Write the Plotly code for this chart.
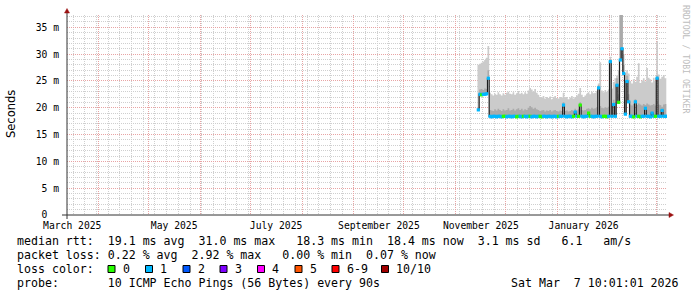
import pandas as pd
import plotly.graph_objects as go

# ---------------- data ----------------
first_day = "2025-11-14"          # daily samples start here
x_start = "2025-03-13 08:30"
x_end = "2026-03-07 10:01"

median_ms = [
    19.6, 22.5, 22.4, 22.5, 22.5, 22.6, 25.5, 18.4, 18.3, 18.4,
    18.4, 18.3, 18.4, 18.4, 18.3, 18.4, 18.4, 18.3, 18.4, 18.4,
    18.3, 18.4, 18.4, 18.3, 18.4, 18.4, 18.3, 18.4, 18.4, 18.3,
    18.4, 18.4, 18.3, 18.4, 18.4, 18.3, 18.4, 18.4, 18.3, 18.4,
    18.4, 18.3, 18.4, 18.4, 18.3, 18.4, 18.4, 18.3, 18.4, 18.4,
    18.4, 20.5, 18.4, 18.3, 18.4, 18.4, 18.3, 18.4, 19.2, 18.4,
    18.4, 20.5, 18.4, 18.3, 18.4, 18.4, 19.0, 18.4, 18.4, 18.3,
    18.4, 18.4, 23.7, 18.4, 18.3, 18.4, 18.4, 18.3, 18.4, 28.6,
    18.4, 20.6, 18.4, 24.2, 21.0, 28.9, 31.0, 26.4, 18.8, 24.9,
    21.1, 18.4, 18.4, 18.3, 21.1, 18.4, 18.4, 18.3, 18.4, 18.4,
    19.9, 18.4, 18.4, 18.3, 19.0, 18.4, 18.4, 25.5, 18.4, 18.4,
    19.5, 18.4, 18.4, 18.4,
]

loss_pings = [
    1, 1, 0, 1, 1, 1, 1, 1, 1, 1,
    1, 1, 1, 1, 1, 0, 0, 1, 1, 1,
    1, 1, 1, 0, 0, 1, 1, 0, 1, 1,
    1, 0, 1, 1, 1, 1, 1, 0, 0, 1,
    1, 1, 1, 1, 1, 1, 1, 1, 0, 1,
    1, 1, 1, 1, 1, 1, 1, 0, 1, 1,
    0, 0, 1, 1, 1, 1, 0, 0, 1, 1,
    1, 1, 1, 1, 1, 0, 0, 0, 1, 1,
    1, 1, 1, 1, 0, 1, 1, 1, 1, 1,
    1, 1, 1, 0, 1, 1, 0, 0, 1, 1,
    1, 1, 1, 1, 1, 1, 0, 1, 1, 1,
    1, 1, 1, 1,
]

smoke_light_ms = [
    28.0, 28.2, 28.4, 28.6, 28.9, 29.3, 31.5, 22.8, 22.5, 22.3,
    22.6, 22.4, 22.9, 22.5, 22.3, 22.7, 22.4, 22.8, 23.0, 22.6,
    22.5, 22.9, 22.4, 22.7, 23.1, 22.6, 22.8, 22.5, 22.9, 22.6,
    23.2, 23.7, 23.4, 23.0, 23.5, 22.8, 22.4, 22.0, 21.9, 22.2,
    21.7, 22.0, 21.8, 22.1, 21.6, 21.9, 22.2, 21.8, 21.7, 22.0,
    21.9, 22.8, 21.8, 22.0, 21.6, 21.9, 22.2, 21.7, 22.0, 22.3,
    22.6, 23.7, 22.4, 22.0, 22.3, 22.6, 22.9, 22.5, 23.0, 22.7,
    22.8, 23.1, 24.5, 28.5, 23.2, 22.9, 23.3, 23.0, 23.4, 29.5,
    23.6, 24.8, 25.5, 26.0, 27.0, 37.5, 37.5, 30.0, 26.5, 27.0,
    26.4, 25.0, 24.5, 25.3, 24.8, 25.8, 28.3, 24.6, 25.1, 25.5,
    24.9, 27.4, 25.6, 25.3, 24.7, 25.6, 25.0, 32.3, 26.2, 25.4,
    25.8, 26.1, 25.5, 26.0,
]

smoke_dark_ms = [
    20.0, 23.4, 23.5, 23.3, 23.6, 23.5, 27.0, 19.6, 19.5, 19.4,
    19.7, 19.5, 19.8, 19.6, 19.4, 19.7, 19.5, 19.6, 19.9, 19.5,
    19.6, 19.8, 19.5, 19.7, 19.9, 19.6, 19.8, 19.5, 19.7, 19.6,
    20.0, 20.3, 20.1, 19.8, 20.0, 19.7, 19.6, 19.4, 19.5, 19.6,
    19.3, 19.5, 19.4, 19.6, 19.3, 19.5, 19.6, 19.4, 19.3, 19.5,
    19.4, 21.0, 19.4, 19.5, 19.3, 19.4, 19.6, 19.4, 19.8, 19.5,
    19.7, 21.0, 19.6, 19.5, 19.6, 19.8, 19.9, 19.7, 20.0, 19.8,
    19.9, 20.1, 24.2, 20.3, 20.0, 19.9, 20.1, 20.0, 20.2, 29.0,
    20.4, 21.5, 21.0, 25.5, 22.5, 37.5, 37.5, 28.0, 21.5, 26.0,
    22.5, 20.6, 20.4, 20.7, 21.6, 20.5, 20.8, 20.6, 20.4, 20.7,
    20.5, 20.8, 20.6, 20.4, 20.5, 20.7, 20.4, 26.0, 20.6, 20.5,
    20.2, 20.6, 20.7, 20.5,
]

month_starts = ["2025-04-01", "2025-05-01", "2025-06-01", "2025-07-01", "2025-08-01",
                "2025-09-01", "2025-10-01", "2025-11-01", "2025-12-01", "2026-01-01",
                "2026-02-01", "2026-03-01"]
label_dates = ["2025-03-16 12:00", "2025-05-16 12:00", "2025-07-16 12:00",
               "2025-09-16 00:00", "2025-11-16 00:00", "2026-01-16 12:00"]
label_texts = ["March 2025", "May 2025", "July 2025", "September 2025",
               "November 2025", "January 2026"]

y_tickvals = [0, 5, 10, 15, 20, 25, 30, 35]
y_ticktext = ["0\u00a0\u00a0", "5 m", "10 m", "15 m", "20 m", "25 m", "30 m", "35 m"]

loss_labels = ["0", "1", "2", "3", "4", "5", "6-9", "10/10"]
loss_palette = ["#26ff00", "#00b8ff", "#0059ff", "#7e00ff", "#ff00ff", "#ff5500", "#ff0000", "#a10000"]

legend_rows = [
    "median rtt:  19.1 ms avg  31.0 ms max   18.3 ms min  18.4 ms now  3.1 ms sd   6.1   am/s",
    "packet loss: 0.22 % avg  2.92 % max   0.00 % min  0.07 % now",
    "loss color:",
    "probe:       10 ICMP Echo Pings (56 Bytes) every 90s",
]
stamp = "Sat Mar  7 10:01:01 2026"

# ---------------- geometry helpers ----------------
W, H = 697, 297
L, R, T, B = 67, 30, 15, 82
PW, PH = W - L - R, H - T - B


def px(x):
    return (x - L) / PW


def py(y):
    return (H - B - y) / PH


def nb(s):
    return s.replace(" ", "\u00a0")


days = pd.date_range(first_day, periods=len(median_ms), freq="D")
mids = days + pd.Timedelta(hours=12)

loss_color_of = {0: loss_palette[0], 1: loss_palette[1], 2: loss_palette[2], 3: loss_palette[3],
                 4: loss_palette[4], 5: loss_palette[5]}
marker_colors = [loss_color_of.get(v, loss_palette[6] if v < 10 else loss_palette[7]) for v in loss_pings]

fig = go.Figure()

# smoke (light)
fig.add_trace(go.Scatter(x=days, y=median_ms, mode="lines", line=dict(width=0, shape="hv"),
                         hoverinfo="skip", showlegend=False))
fig.add_trace(go.Scatter(x=days, y=smoke_light_ms, mode="lines", line=dict(width=0, shape="hv"),
                         fill="tonexty", fillcolor="#cbcbcb", hoverinfo="skip", showlegend=False))
# smoke (dark)
fig.add_trace(go.Scatter(x=days, y=median_ms, mode="lines", line=dict(width=0, shape="hv"),
                         hoverinfo="skip", showlegend=False))
fig.add_trace(go.Scatter(x=days, y=smoke_dark_ms, mode="lines", line=dict(width=0, shape="hv"),
                         fill="tonexty", fillcolor="#aaaaaa", hoverinfo="skip", showlegend=False))
# median step line (dark) and loss coloured median
fig.add_trace(go.Scatter(x=days, y=median_ms, xaxis="x2", mode="lines",
                         line=dict(color="#1c1c1c", width=1.2, shape="hv"),
                         hoverinfo="skip", showlegend=False))
fig.add_trace(go.Scatter(x=mids, y=median_ms, xaxis="x2", mode="markers",
                         marker=dict(symbol="square", size=3.2, color=marker_colors, line=dict(width=0)),
                         hoverinfo="skip", showlegend=False))

grid_grey = "#cfcfcf"
grid_red = "#e8a4a4"
dash = "1px,1px"
tickfont = dict(family="DejaVu Sans Mono", size=9.7, color="#000000")

fig.update_layout(
    width=W, height=H,
    margin=dict(l=L, r=R, t=T, b=B, pad=0),
    paper_bgcolor="white", plot_bgcolor="white",
    showlegend=False, hovermode=False,
    xaxis=dict(type="date", range=[x_start, x_end], tickmode="array",
               tickvals=label_dates, ticktext=label_texts, showgrid=False,
               zeroline=False, showline=False, ticks="", tickfont=tickfont,
               ticklabelstandoff=3,
               minor=dict(showgrid=True, tick0="2025-03-17", dtick=7 * 86400000,
                          gridcolor=grid_grey, griddash=dash, gridwidth=1)),
    xaxis2=dict(type="date", overlaying="x", matches="x", anchor="y", range=[x_start, x_end],
                tickmode="array", tickvals=month_starts, showticklabels=False,
                showgrid=True, gridcolor=grid_red, griddash=dash, gridwidth=1,
                zeroline=False, showline=False, ticks=""),
    yaxis=dict(range=[0, 37.29], tickmode="array", tickvals=y_tickvals, ticktext=y_ticktext,
               showgrid=True, gridcolor=grid_red, griddash=dash, gridwidth=1,
               zeroline=False, showline=False, ticks="", tickfont=tickfont,
               ticklabelstandoff=7,
               minor=dict(showgrid=True, tick0=0, dtick=1, gridcolor=grid_grey,
                          griddash=dash, gridwidth=1)),
)

axis_col = "#333333"
arrow_col = "#9b1010"
shapes = [
    dict(type="line", xref="paper", yref="paper", x0=px(67), x1=px(67), y0=py(219), y1=py(11),
         line=dict(color=axis_col, width=1)),
    dict(type="line", xref="paper", yref="paper", x0=px(62), x1=px(670), y0=py(215), y1=py(215),
         line=dict(color=axis_col, width=1)),
    dict(type="path", xref="paper", yref="paper",
         path=f"M {px(64.5)},{py(13)} L {px(69.5)},{py(13)} L {px(67)},{py(8.5)} Z",
         fillcolor=arrow_col, line=dict(color=arrow_col, width=0.5)),
    dict(type="path", xref="paper", yref="paper",
         path=f"M {px(669)},{py(212.5)} L {px(669)},{py(217.5)} L {px(673.5)},{py(215)} Z",
         fillcolor=arrow_col, line=dict(color=arrow_col, width=0.5)),
]

box_left = [108, 145.5, 183, 220, 257.5, 295, 332, 381.5]
annotations = []
for bx, col, lab in zip(box_left, loss_palette, loss_labels):
    shapes.append(dict(type="rect", xref="paper", yref="paper", x0=px(bx), x1=px(bx + 7),
                       y0=py(272.5), y1=py(265.5), fillcolor=col,
                       line=dict(color="#000000", width=1)))
    annotations.append(dict(text=nb(lab), x=px(bx + 12.5), y=py(269), xref="paper", yref="paper",
                            xanchor="left", yanchor="middle", showarrow=False,
                            font=dict(family="DejaVu Sans Mono", size=11.6, color="#000")))

row_y = [241, 255, 269, 283]
for txt, yy in zip(legend_rows, row_y):
    annotations.append(dict(text=nb(txt), x=px(15), y=py(yy), xref="paper", yref="paper",
                            xanchor="left", yanchor="middle", showarrow=False,
                            font=dict(family="DejaVu Sans Mono", size=11.6, color="#000")))
annotations.append(dict(text=nb(stamp), x=px(681), y=py(283), xref="paper", yref="paper",
                        xanchor="right", yanchor="middle", showarrow=False,
                        font=dict(family="DejaVu Sans Mono", size=11.6, color="#000")))
annotations.append(dict(text="Seconds", x=px(11), y=py(114), xref="paper", yref="paper",
                        xanchor="center", yanchor="middle", showarrow=False, textangle=-90,
                        font=dict(family="DejaVu Sans", size=11.5, color="#000")))
annotations.append(dict(text=nb("RRDTOOL / TOBI OETIKER"), x=px(686), y=py(59), xref="paper",
                        yref="paper", xanchor="center", yanchor="middle", showarrow=False,
                        textangle=90,
                        font=dict(family="DejaVu Sans Mono", size=8.2, color="#bdbdbd")))

fig.update_layout(shapes=shapes, annotations=annotations)
fig.write_html("out.html")
